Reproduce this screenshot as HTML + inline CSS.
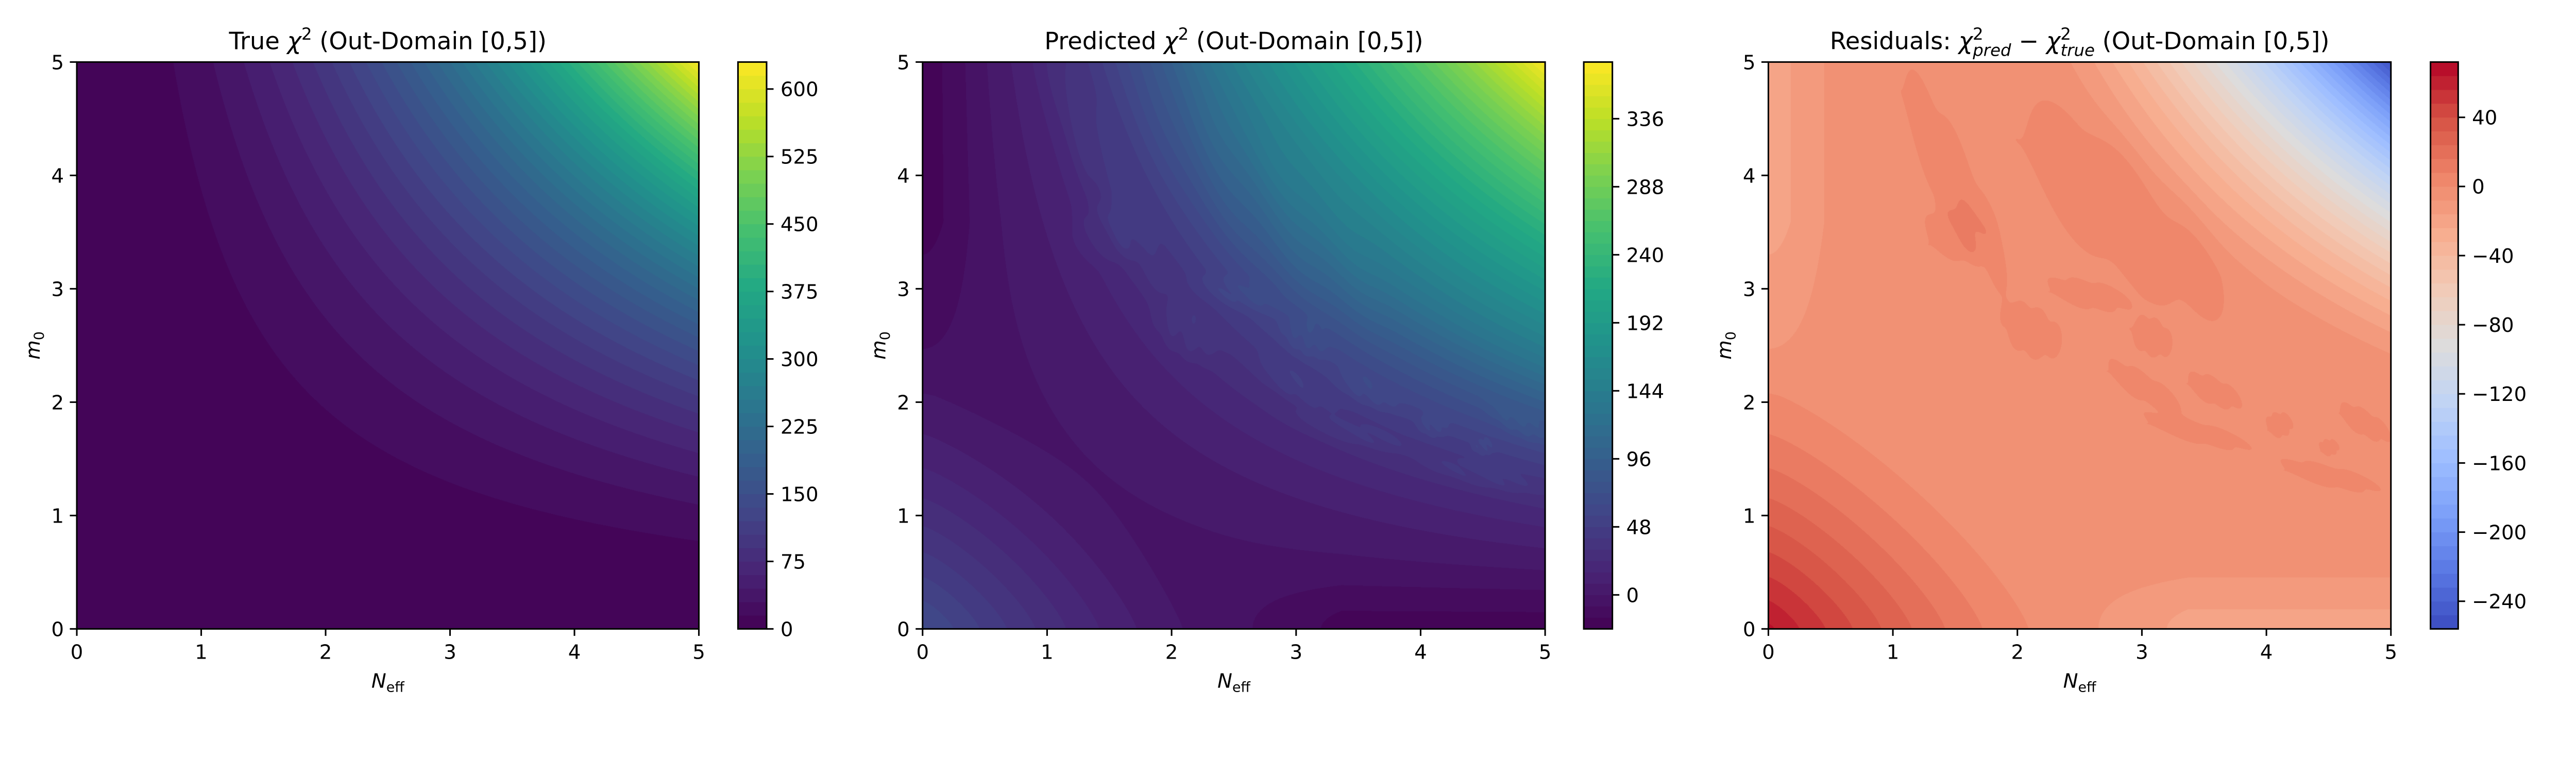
<!DOCTYPE html>
<html><head><meta charset="utf-8">
<style>
html,body{margin:0;padding:0;background:#fff;overflow:hidden;}
#root{position:absolute;left:0;top:0;width:5400px;height:1500px;overflow:hidden;background:#fff;transform-origin:0 0;}
canvas{position:absolute;}
svg{position:absolute;left:0;top:0;overflow:hidden;}
text{font-family:"DejaVu Sans","Liberation Sans",sans-serif;fill:#000;}
</style></head>
<body>
<div id="root">
<canvas id="c0"></canvas>
<canvas id="c1"></canvas>
<canvas id="c2"></canvas>
<svg id="svg" width="5400" height="1500" xmlns="http://www.w3.org/2000/svg"></svg>
</div>
<script>
(function fit(){
  const root=document.getElementById('root');
  const vw=document.documentElement.clientWidth||window.innerWidth||5400;
  const vh=document.documentElement.clientHeight||window.innerHeight||1500;
  let s=Math.min(vw/5400, vh/1500);
  if(!(s>0.3)) s=1;
  if(Math.abs(s-1)>0.002) root.style.transform='scale('+s+')';
})();
// ---- chart data ----
const xTicks = [0, 1, 2, 3, 4, 5];
const yTicks = [0, 1, 2, 3, 4, 5];
const trueCbTicks = [0, 75, 150, 225, 300, 375, 450, 525, 600];
const predCbTicks = [0, 48, 96, 144, 192, 240, 288, 336];
const residCbTicks = [-240, -200, -160, -120, -80, -40, 0, 40];
const levelSteps = [15, 8, 8];
// residual model parameters
const residBase = [-4];
const cornerPeak = [70, 2.4, 1.4];        // amplitude, reach, exponent
const topRightDrop = [248, 0.45, 1.5];    // amplitude, start (xy/25), exponent
const leftStrip = [14.8, 0.393];          // amplitude, width
const bottomStrip = [14.4, 0.4];          // amplitude, width
const islandCx = [2.80, 1.47, 1.50, 2.12, 2.55, 3.07, 3.00, 3.57, 3.42, 4.10, 4.78, 4.49, 4.50];
const islandCy = [3.70, 3.99, 3.50, 2.62, 2.95, 2.57, 2.14, 2.10, 1.74, 1.80, 1.82, 1.35, 1.60];
const islandRx = [1.30, 1.15, 0.28, 0.30, 0.38, 0.22, 0.40, 0.28, 0.50, 0.12, 0.28, 0.46, 0.09];
const islandRy = [0.45, 0.20, 0.26, 0.21, 0.13, 0.15, 0.12, 0.12, 0.10, 0.12, 0.11, 0.10, 0.08];
const islandAng = [-48, -67, 0, -45, -15, -45, -35, -30, -17, 0, -35, -15, 0];

// ---- layout ----
const panels = [
  {x0:161, x1:1465, cb0:1547, cb1:1607, cmap:'viridis', title:'true', name:'true'},
  {x0:1934, x1:3239, cb0:3320, cb1:3380, cmap:'viridis', title:'pred', name:'predicted'},
  {x0:3707, x1:5012, cb0:5095, cb1:5153, cmap:'coolwarm', title:'resid', name:'residuals'}
];
const Y0 = 130, Y1 = 1318;

const viridisStops = ['#440154','#482475','#414487','#355f8d','#2a788e','#21918c','#22a884','#44bf70','#7ad151','#bddf26','#fde725'];
const coolwarmStops = ['#3b4cc0','#5977e3','#7b9ff9','#9ebeff','#c0d4f5','#dddcdc','#f2cbb7','#f7ac8e','#ee8468','#d65244','#b40426'];
function hex(h){return [parseInt(h.slice(1,3),16),parseInt(h.slice(3,5),16),parseInt(h.slice(5,7),16)];}
const VS = viridisStops.map(hex), CS = coolwarmStops.map(hex);
function cmap(name,t){
  const s = name==='viridis'?VS:CS;
  t=Math.max(0,Math.min(1,t));
  const f=t*(s.length-1), i=Math.min(s.length-2,Math.floor(f)), u=f-i;
  return [0,1,2].map(k=>Math.round(s[i][k]+(s[i+1][k]-s[i][k])*u));
}

function trueChi(x,y){ return (x*y)*(x*y); }
function resid(x,y){
  let r = residBase[0];
  const d = Math.pow(Math.pow(x,1.25)+Math.pow(y,1.25),1/1.25);
  const q = Math.max(0,1-d/cornerPeak[1]);
  r += cornerPeak[0]*Math.pow(q,cornerPeak[2]);
  const g = x*y/25;
  const t = Math.max(0,(g-topRightDrop[1])/(1-topRightDrop[1]));
  r -= topRightDrop[0]*Math.pow(t,topRightDrop[2]);
  const ry = Math.max(0,Math.min(1,0.27+(y-2.47)*0.65));
  r -= leftStrip[0]*Math.exp(-Math.pow(x/leftStrip[1],2))*ry;
  const rx = Math.max(0,Math.min(1,0.278+(x-2.65)*1.01));
  r -= bottomStrip[0]*Math.exp(-Math.pow(y/bottomStrip[1],2))*rx;
  for(let i=0;i<islandCx.length;i++){
    const a=islandAng[i]*Math.PI/180, dx=x-islandCx[i], dy=y-islandCy[i];
    const u=(dx*Math.cos(a)+dy*Math.sin(a))/islandRx[i];
    const v=(-dx*Math.sin(a)+dy*Math.cos(a))/islandRy[i];
    const e=u*u+v*v;
    if(e<4) r += 8*Math.exp(-e*e)*(1+0.25*Math.sin(9*u+5*v));
  }
  return r;
}
const fields = [trueChi, (x,y)=>trueChi(x,y)+resid(x,y), resid];

const svg = document.getElementById('svg');
const NS='http://www.w3.org/2000/svg';
function el(tag,attrs,parent){const e=document.createElementNS(NS,tag);for(const k in attrs)e.setAttribute(k,attrs[k]);(parent||svg).appendChild(e);return e;}
function fmt(v){return v<0?'\u2212'+Math.abs(v):String(v);}

const cbTickSets=[trueCbTicks,predCbTicks,residCbTicks];

panels.forEach((p,pi)=>{
  const W=p.x1-p.x0, H=Y1-Y0;
  const f=fields[pi];
  const vals=new Float32Array(W*H);
  let mn=Infinity,mx=-Infinity;
  for(let j=0;j<H;j++){
    const y=5*(1-(j+0.5)/H);
    for(let i=0;i<W;i++){
      const x=5*(i+0.5)/W;
      const v=f(x,y); vals[j*W+i]=v;
      if(v<mn)mn=v; if(v>mx)mx=v;
    }
  }
  const step=levelSteps[pi];
  const lmin=Math.floor(mn/step)*step, lmax=Math.ceil(mx/step)*step;
  const nb=Math.round((lmax-lmin)/step);
  const cols=[];for(let b=0;b<nb;b++)cols.push(cmap(p.cmap,(b+0.5)/nb));
  const cv=document.getElementById('c'+pi);
  cv.width=W;cv.height=H;cv.style.left=p.x0+'px';cv.style.top=Y0+'px';
  cv.style.width=W+'px';cv.style.height=H+'px';
  const ctx=cv.getContext('2d');const img=ctx.createImageData(W,H);
  for(let k=0;k<W*H;k++){
    let b=Math.floor((vals[k]-lmin)/step);b=Math.max(0,Math.min(nb-1,b));
    const c=cols[b];img.data[4*k]=c[0];img.data[4*k+1]=c[1];img.data[4*k+2]=c[2];img.data[4*k+3]=255;
  }
  ctx.putImageData(img,0,0);

  const g=el('g',{});
  
  
  const sp=el('rect',{x:p.x0,y:Y0,width:W,height:H,fill:'none',stroke:'#000','stroke-width':3.3},g);
  
  
  const sx=v=>p.x0+v/5*W, sy=v=>Y1-v/5*H;
  xTicks.forEach(v=>{
    el('line',{x1:sx(v),x2:sx(v),y1:Y1,y2:Y1+14.6,stroke:'#000','stroke-width':3.3},g);
    const t=el('text',{x:sx(v),y:1381,'font-size':41.7,'text-anchor':'middle'},g);t.textContent=v;
    
    
  });
  yTicks.forEach(v=>{
    el('line',{x1:p.x0-14.6,x2:p.x0,y1:sy(v),y2:sy(v),stroke:'#000','stroke-width':3.3},g);
    const t=el('text',{x:p.x0-27,y:sy(v)+15,'font-size':41.7,'text-anchor':'end'},g);t.textContent=v;
    
    
  });
  const xl=el('text',{x:p.x0+W/2,y:1441,'font-size':41.7,'text-anchor':'middle'},g);
  xl.innerHTML='<tspan font-style="italic">N</tspan><tspan font-size="29" dy="9">eff</tspan>';
  
  
  const yl=el('text',{x:0,y:0,'font-size':41.7,'text-anchor':'middle',transform:`translate(${p.x0-78},${(Y0+Y1)/2}) rotate(-90)`},g);
  yl.innerHTML='<tspan font-style="italic">m</tspan><tspan font-size="29" dy="9">0</tspan>';
  
  
  const tt=el('text',{x:p.x0+W/2,y:103,'font-size':50,'text-anchor':'middle'},g);
  if(p.title==='true') tt.innerHTML='True <tspan font-style="italic">χ</tspan><tspan font-size="35" dy="-20">2</tspan><tspan dy="20"> (Out-Domain [0,5])</tspan>';
  else if(p.title==='pred') tt.innerHTML='Predicted <tspan font-style="italic">χ</tspan><tspan font-size="35" dy="-20">2</tspan><tspan dy="20"> (Out-Domain [0,5])</tspan>';
  else tt.innerHTML='Residuals: <tspan font-style="italic">χ</tspan><tspan font-size="35" dy="-20">2</tspan><tspan font-size="35" font-style="italic" dx="-22" dy="34">pred</tspan><tspan dy="-14"> − </tspan><tspan font-style="italic">χ</tspan><tspan font-size="35" dy="-20">2</tspan><tspan font-size="35" font-style="italic" dx="-22" dy="34">true</tspan><tspan dy="-14"> (Out-Domain [0,5])</tspan>';
  
  
  const cg=el('g',{},g);
  
  
  const cby=v=>Y1-(v-lmin)/(lmax-lmin)*H;
  for(let b=0;b<nb;b++){
    const c=cols[b];
    const r=el('rect',{x:p.cb0,y:cby(lmin+(b+1)*step)-0.5,width:p.cb1-p.cb0,height:H/nb+1,fill:`rgb(${c[0]},${c[1]},${c[2]})`},cg);
    
    
  }
  el('rect',{x:p.cb0,y:Y0,width:p.cb1-p.cb0,height:H,fill:'none',stroke:'#000','stroke-width':3.3},cg);
  cbTickSets[pi].forEach(v=>{
    const yy=cby(v); if(yy<Y0-1||yy>Y1+1)return;
    el('line',{x1:p.cb1,x2:p.cb1+14.6,y1:yy,y2:yy,stroke:'#000','stroke-width':3.3},cg);
    const t=el('text',{x:p.cb1+29,y:yy+15,'font-size':41.7},cg);t.textContent=fmt(v);
    
    
  });
});
</script>
</body></html>
